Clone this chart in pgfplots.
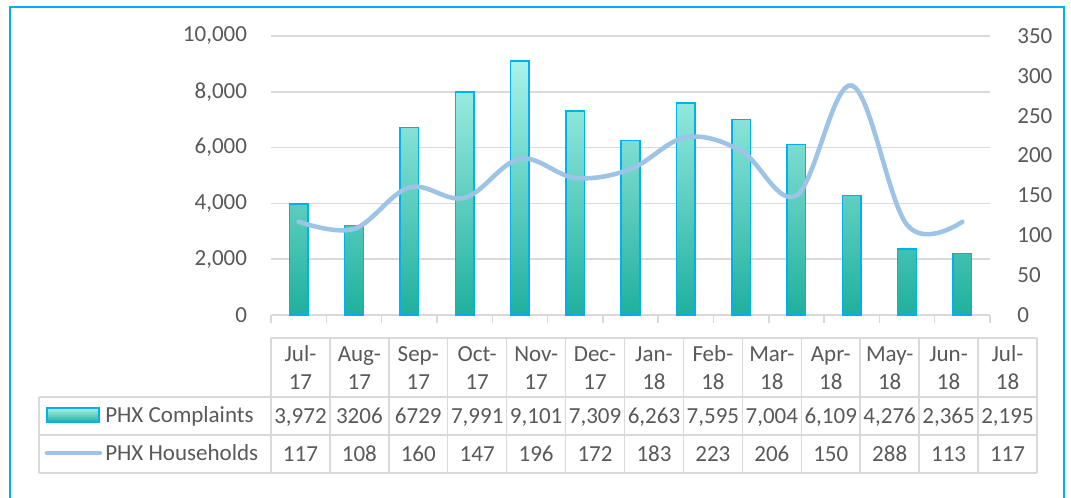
\documentclass[border=0pt]{standalone}
\usepackage{pgfplots}
\pgfplotsset{compat=1.18}
\usepackage{fontspec}
\setmainfont{Carlito}
\definecolor{txt}{HTML}{595959}
\definecolor{gridc}{HTML}{D9D9D9}
\definecolor{bord}{HTML}{00B0F0}
\definecolor{bartop}{HTML}{A8F2EA}
\definecolor{barmid}{HTML}{66E6DA}
\definecolor{barbot}{HTML}{1FB09D}
\definecolor{linec}{HTML}{9DC3E6}
\newcommand{\fs}{\fontsize{17.25}{20}\selectfont}
\begin{document}
\begin{tikzpicture}
\begin{scope}[x=0.75pt,y=0.75pt]
\clip (0,0) rectangle (1071,497);
\path[use as bounding box] (0,0) rectangle (1071,497);
\fill[white] (0,0) rectangle (1071,497);
\draw[bord,line width=1.9pt] (10,-10) -- (10,490) -- (1064,490) -- (1064,-10);
\end{scope}

\begin{axis}[
  at={(203.25pt,136.5pt)}, anchor=south west,
  scale only axis, width=539.25pt, height=209.25pt,
  xmin=-0.5, xmax=12.5, ymin=0, ymax=10000,
  ytick={0,2000,...,10000},
  scaled y ticks=false,
  /pgf/number format/.cd, 1000 sep={,}, assume math mode=true, /pgfplots/.cd,
  yticklabel style={font=\fs, text=txt},
  xtick={-0.5,0.5,...,12.5}, xticklabels={},
  axis y line*=left, axis x line*=bottom,
  y axis line style={draw=none},
  x axis line style={gridc, line width=1.1pt},
  ymajorgrids, grid style={gridc, line width=1.1pt},
  major y tick style={draw=none},
  major x tick style={gridc, line width=1.1pt},
  tick align=outside, major tick length=6pt,
  yticklabel shift=8.5pt,
  ybar, bar width=14pt,
  clip=false,
]
\addplot[draw=bord, line width=1.1pt, shading=axis, top color=bartop, middle color=barmid, bottom color=barbot]
coordinates {(0,3972) (1,3206) (2,6729) (3,7991) (4,9101) (5,7309) (6,6263) (7,7595) (8,7004) (9,6109) (10,4276) (11,2365) (12,2195)};
\end{axis}

\begin{axis}[
  at={(203.25pt,136.5pt)}, anchor=south west,
  scale only axis, width=539.25pt, height=209.25pt,
  xmin=-0.5, xmax=12.5, ymin=0, ymax=350,
  ytick={0,50,...,350},
  /pgf/number format/assume math mode=true,
  yticklabel style={font=\fs, text=txt},
  axis y line*=right, axis x line=none,
  y axis line style={draw=none},
  major y tick style={draw=none},
  yticklabel shift=17pt,
  clip=false,
]
\addplot[linec, line width=3.4pt, line cap=round, smooth, tension=0.6, mark=none]
coordinates {(0,117) (1,108) (2,160) (3,147) (4,196) (5,172) (6,183) (7,223) (8,206) (9,150) (10,288) (11,113) (12,117)};
\end{axis}

\begin{scope}[x=0.75pt,y=0.75pt]
\def\cw{58.92}
\draw[gridc, line width=1.1pt] (271,159) -- (1037,159);
\draw[gridc, line width=1.1pt] (39,100) -- (1037,100);
\draw[gridc, line width=1.1pt] (39,62) -- (1037,62);
\draw[gridc, line width=1.1pt] (39,24) -- (1037,24);
\draw[gridc, line width=1.1pt] (39,100) -- (39,24);
\foreach \i in {0,...,13} {
  \draw[gridc, line width=1.1pt] ({271+\i*\cw},159) -- ({271+\i*\cw},24);
}
\foreach \m/\yy [count=\i from 0] in {Jul/17,Aug/17,Sep/17,Oct/17,Nov/17,Dec/17,Jan/18,Feb/18,Mar/18,Apr/18,May/18,Jun/18,Jul/18} {
  \node[anchor=base, inner sep=0pt, text=txt, font=\fs] at ({271+(\i+0.5)*\cw},136) {\m-};
  \node[anchor=base, inner sep=0pt, text=txt, font=\fs] at ({271+(\i+0.5)*\cw},108) {\yy};
}
\foreach \v [count=\i from 0] in {3{,}972,3206,6729,7{,}991,9{,}101,7{,}309,6{,}263,7{,}595,7{,}004,6{,}109,4{,}276,2{,}365,2{,}195} {
  \node[anchor=base, inner sep=0pt, text=txt, font=\fs] at ({271+(\i+0.5)*\cw},74) {\v};
}
\foreach \v [count=\i from 0] in {117,108,160,147,196,172,183,223,206,150,288,113,117} {
  \node[anchor=base, inner sep=0pt, text=txt, font=\fs] at ({271+(\i+0.5)*\cw},36) {\v};
}
\shade[top color=bartop, middle color=barmid, bottom color=barbot] (47,75) rectangle (99,89);
\draw[bord, line width=1.1pt] (47,75) rectangle (99,89);
\node[anchor=base west, inner sep=0pt, text=txt, font=\fs] at (105,75) {PHX Complaints};
\draw[linec, line width=3.4pt, line cap=round] (47,44) -- (100,44);
\node[anchor=base west, inner sep=0pt, text=txt, font=\fs] at (105,37) {PHX Households};
\end{scope}
\end{tikzpicture}
\end{document}
